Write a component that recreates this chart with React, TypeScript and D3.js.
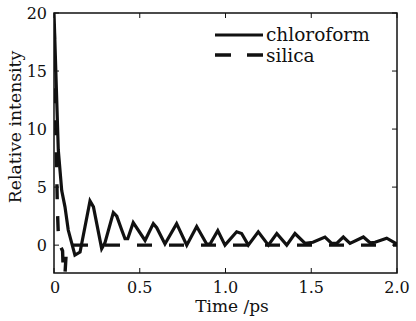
import React from "react";
import * as d3 from "d3";

const timeC = [0, 0.025, 0.045, 0.064, 0.083, 0.122, 0.152, 0.21, 0.23, 0.278, 0.297, 0.346, 0.366, 0.395, 0.414, 0.43, 0.462, 0.531, 0.579, 0.599, 0.647, 0.715, 0.774, 0.832, 0.89, 0.91, 0.955, 0.997, 1.065, 1.094, 1.133, 1.191, 1.25, 1.299, 1.357, 1.405, 1.464, 1.51, 1.58, 1.619, 1.648, 1.687, 1.726, 1.804, 1.843, 1.872, 1.94, 2.0];
const valC = [20, 8.2, 4.7, 3.3, 1.3, -0.86, -0.6, 3.8, 3.3, -0.3, 0.2, 2.8, 2.5, 1.3, 0.55, 0.55, 1.95, 0.4, 1.85, 1.5, 0.1, 1.85, 0, 1.6, 0.1, 0.1, 1.25, 0, 1.15, 1.0, 0, 1.15, 0, 1.0, 0, 1.0, 0.15, 0.25, 0.7, 0.15, 0.15, 0.7, 0.15, 0.7, 0.2, 0.25, 0.6, 0.1];

const timeS = [0, 0.012, 0.016, 0.02, 0.025, 0.035, 0.05, 0.058, 0.07, 0.08, 2.0];
const valS = [20, 9, 6, 3, 1, 0, -0.5, -4, -1, 0, 0];

const xTicks = [0, 0.5, 1.0, 1.5, 2.0];
const xTickLabels = ["0", "0.5", "1.0", "1.5", "2.0"];
const yTicks = [0, 5, 10, 15, 20];
const yTickLabels = ["0", "5", "10", "15", "20"];
const seriesNames = ["chloroform", "silica"];

const W = 416, H = 321;
const L = 54, R = 397, T = 13, B = 273;
const FONT = "'DejaVu Serif', serif";

export default function App() {
  const x = d3.scaleLinear().domain([0, 2]).range([L, R]);
  const y = d3.scaleLinear().domain([-2.4, 20]).range([B, T]);
  const line = d3.line<[number, number]>().x(d => x(d[0])).y(d => y(d[1]));
  const cPts: [number, number][] = timeC.map((t, i) => [t, valC[i]]);
  const sPts: [number, number][] = timeS.map((t, i) => [t, valS[i]]);

  // dash phase so flat silica dashes start near x=73
  const P = 32, dashLen = 15;
  let len = 0;
  for (let i = 1; i <= timeS.length - 2; i++) {
    const dx = x(timeS[i]) - x(timeS[i - 1]);
    const dy = y(valS[i]) - y(valS[i - 1]);
    len += Math.hypot(dx, dy);
  }
  len += 73 - x(timeS[timeS.length - 2]);
  const offset = (P - (len % P)) % P;

  const tickLen = 5;
  return (
    <svg width={W} height={H} style={{ position: "absolute", left: 0, top: 0, background: "#fff" }}>
      <defs>
        <clipPath id="plotclip">
          <rect x={L} y={T} width={R - L} height={B - T} />
        </clipPath>
      </defs>
      <rect x={0} y={0} width={W} height={H} fill="#fff" />
      <g clipPath="url(#plotclip)">
        <path d={line(sPts) || ""} fill="none" stroke="#111" strokeWidth={3.4}
          strokeDasharray={`${dashLen} ${P - dashLen}`} strokeDashoffset={offset} />
        <path d={line(cPts) || ""} fill="none" stroke="#111" strokeWidth={3.2} strokeLinejoin="miter" strokeMiterlimit={3} />
      </g>
      <rect x={L} y={T} width={R - L} height={B - T} fill="none" stroke="#111" strokeWidth={1.5} />
      {xTicks.map((t, i) => (
        <g key={"xt" + i}>
          <line x1={x(t)} x2={x(t)} y1={B} y2={B - tickLen} stroke="#111" strokeWidth={1} />
          <line x1={x(t)} x2={x(t)} y1={T} y2={T + tickLen} stroke="#111" strokeWidth={1} />
          <text x={x(t) + (i === 0 ? 1 : 0)} y={293} textAnchor="middle" fontFamily={FONT} fontSize={16} fill="#111">
            {xTickLabels[i]}
          </text>
        </g>
      ))}
      {yTicks.map((v, i) => (
        <g key={"yt" + i}>
          <line x1={L} x2={L + tickLen} y1={y(v)} y2={y(v)} stroke="#111" strokeWidth={1} />
          <line x1={R} x2={R - tickLen} y1={y(v)} y2={y(v)} stroke="#111" strokeWidth={1} />
          <text x={47} y={y(v)} dy="0.36em" textAnchor="end" fontFamily={FONT} fontSize={16} fill="#111">
            {yTickLabels[i]}
          </text>
        </g>
      ))}
      <text x={232} y={312} textAnchor="middle" fontFamily={FONT} fontSize={17} fill="#111">Time /ps</text>
      <text transform="translate(21,127) rotate(-90)" textAnchor="middle" fontFamily={FONT} fontSize={17.2} fill="#111">
        Relative intensity
      </text>
      <g>
        <line x1={215} x2={263} y1={35} y2={35} stroke="#111" strokeWidth={3} />
        <text x={266} y={41} fontFamily={FONT} fontSize={18.5} fill="#111">{seriesNames[0]}</text>
        <line x1={215} x2={263} y1={55} y2={55} stroke="#111" strokeWidth={3.4} strokeDasharray="16 16" />
        <text x={266} y={62} fontFamily={FONT} fontSize={18.5} fill="#111">{seriesNames[1]}</text>
      </g>
    </svg>
  );
}
